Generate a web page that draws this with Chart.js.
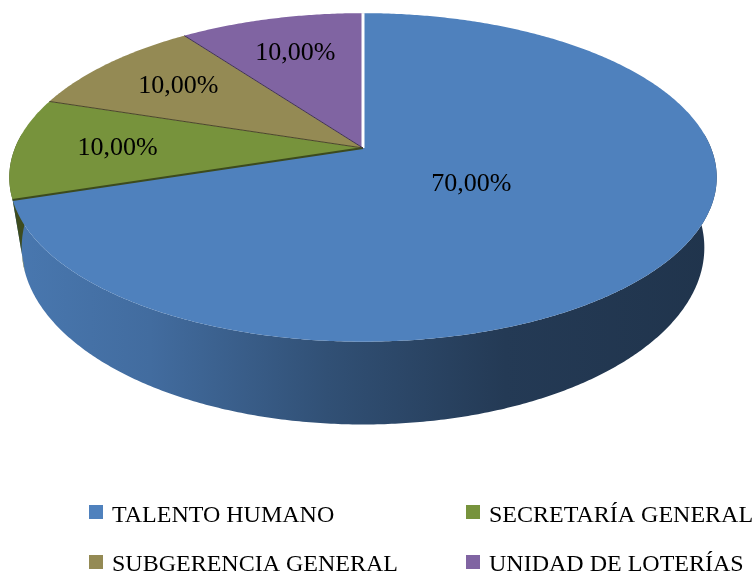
<!DOCTYPE html>
<html>
<head>
<meta charset="utf-8">
<script src="https://cdn.jsdelivr.net/npm/chart.js@4.4.1/dist/chart.umd.min.js"></script>
<style>
  html, body { margin: 0; padding: 0; background: #fff; }
  #wrap { width: 755px; height: 571px; }
</style>
</head>
<body>
<div id="wrap"><canvas id="pieChart" width="755" height="571"></canvas></div>
<script>
const categories = ["TALENTO HUMANO", "SECRETARÍA GENERAL", "SUBGERENCIA GENERAL", "UNIDAD DE LOTERÍAS"];
const shares = [70, 10, 10, 10];
const sliceColors = ["#4F81BD", "#77933C", "#948A54", "#8064A2"];

// perspective look of the 3D pie (tilt < 0 = near edge bigger)
const view = { rx: 348, ry: 159, tilt: -0.179, depth: 68, bottomScale: 0.965 };
const labelFont = "26px 'Liberation Serif', 'Times New Roman', serif";
const legendFont = "24px 'Liberation Serif', 'Times New Roman', serif";

function hexToRgb(hex) {
  const n = parseInt(hex.slice(1), 16);
  return [(n >> 16) & 255, (n >> 8) & 255, n & 255];
}

function shade(hex, f) {
  const [r, g, b] = hexToRgb(hex);
  return `rgb(${Math.round(r * f)}, ${Math.round(g * f)}, ${Math.round(b * f)})`;
}

function project(cx, cy, a, r = 1) {
  const u = r * Math.cos(a);
  const v = r * Math.sin(a);
  const k = 1 + view.tilt * v;
  return { x: cx + view.rx * u / k, y: cy + view.ry * v / k, k };
}

function bottomOf(cx, p) {
  return { x: cx + (p.x - cx) * view.bottomScale, y: p.y + view.depth / p.k };
}

function rimPoints(cx, cy, a1, a2) {
  const pts = [];
  const steps = Math.max(2, Math.ceil((a2 - a1) / (Math.PI / 360)));
  for (let s = 0; s <= steps; s++) {
    pts.push(project(cx, cy, a1 + (a2 - a1) * s / steps));
  }
  return pts;
}

const pie3d = {
  id: "pie3d",
  beforeDatasetsDraw(chart) {
    const ctx = chart.ctx;
    const arcs = chart.getDatasetMeta(0).data;
    const colors = chart.data.datasets[0].backgroundColor;
    const cx = arcs[0].x;
    const cy = arcs[0].y;
    ctx.save();

    // side walls (only the front half is visible)
    const lo = -Math.PI / 36, hi = Math.PI + Math.PI / 36;
    const left = cx - view.rx * 1.02, right = cx + view.rx * 1.02;
    arcs.forEach((arc, i) => {
      const s = Math.max(arc.startAngle, lo);
      const e = Math.min(arc.endAngle, hi);
      if (e <= s) return;
      const top = rimPoints(cx, cy, s, e);
      ctx.beginPath();
      top.forEach((p, j) => j ? ctx.lineTo(p.x, p.y) : ctx.moveTo(p.x, p.y));
      for (let j = top.length - 1; j >= 0; j--) {
        const b = bottomOf(cx, top[j]);
        ctx.lineTo(b.x, b.y);
      }
      ctx.closePath();
      if (e - s > Math.PI / 4) {
        const g = ctx.createLinearGradient(left, 0, right, 0);
        g.addColorStop(0, shade(colors[i], 0.93));
        g.addColorStop(0.2, shade(colors[i], 0.84));
        g.addColorStop(0.45, shade(colors[i], 0.62));
        g.addColorStop(0.7, shade(colors[i], 0.45));
        g.addColorStop(1, shade(colors[i], 0.4));
        ctx.fillStyle = g;
      } else {
        ctx.fillStyle = shade(colors[i], 0.52);
      }
      ctx.fill();
    });

    // top faces
    arcs.forEach((arc, i) => {
      const rim = rimPoints(cx, cy, arc.startAngle, arc.endAngle);
      ctx.beginPath();
      ctx.moveTo(cx, cy);
      rim.forEach(p => ctx.lineTo(p.x, p.y));
      ctx.closePath();
      ctx.fillStyle = colors[i];
      ctx.fill();
    });

    // slice edges
    arcs.forEach((arc, i) => {
      const p = project(cx, cy, arc.startAngle);
      ctx.beginPath();
      ctx.moveTo(cx, cy);
      ctx.lineTo(p.x, p.y);
      if (i === 0) {
        ctx.strokeStyle = "#ffffff";
        ctx.lineWidth = 3;
      } else {
        ctx.strokeStyle = shade(colors[i], 0.5);
        ctx.lineWidth = i === 1 ? 2 : 1;
      }
      ctx.stroke();
    });

    // value labels
    const total = chart.data.datasets[0].data.reduce((a, b) => a + b, 0);
    ctx.font = labelFont;
    ctx.fillStyle = "#000";
    ctx.textAlign = "center";
    ctx.textBaseline = "middle";
    arcs.forEach((arc, i) => {
      const mid = (arc.startAngle + arc.endAngle) / 2;
      const r = arc.endAngle - arc.startAngle > Math.PI ? 0.37 : 0.705;
      const p = project(cx, cy, mid, r);
      const pct = (chart.data.datasets[0].data[i] / total * 100).toFixed(2).replace(".", ",") + "%";
      ctx.fillText(pct, p.x, p.y);
    });

    ctx.restore();
    return false;
  },
  afterDraw(chart) {
    const ctx = chart.ctx;
    const colors = chart.data.datasets[0].backgroundColor;
    const cols = [89, 466];
    const rows = [505, 555];
    ctx.save();
    ctx.font = legendFont;
    ctx.textAlign = "left";
    ctx.textBaseline = "alphabetic";
    chart.data.labels.forEach((label, i) => {
      const x = cols[i % 2];
      const y = rows[Math.floor(i / 2)];
      ctx.fillStyle = colors[i];
      ctx.fillRect(x, y, 14, 14);
      ctx.fillStyle = "#000";
      ctx.fillText(label, x + 23, y + 17 - Math.floor(i / 2));
    });
    ctx.restore();
  }
};

new Chart(document.getElementById("pieChart"), {
  type: "pie",
  data: {
    labels: categories,
    datasets: [{
      data: shares,
      backgroundColor: sliceColors,
      borderWidth: 0
    }]
  },
  options: {
    responsive: false,
    animation: false,
    layout: { padding: { left: 0, right: 29, top: 0, bottom: 275 } },
    plugins: {
      legend: { display: false },
      tooltip: { enabled: false }
    }
  },
  plugins: [pie3d]
});
</script>
</body>
</html>
